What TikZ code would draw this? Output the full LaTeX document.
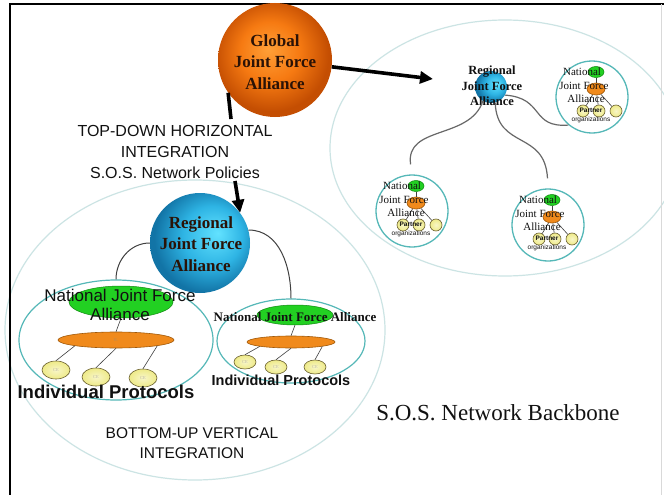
\documentclass[tikz,border=0pt]{standalone}
\usepackage{fontspec}
\setmainfont{Liberation Serif}
\setsansfont{Liberation Sans}
\usetikzlibrary{shapes.geometric,arrows.meta}
\definecolor{gA}{HTML}{FFA038}
\definecolor{gB}{HTML}{F67A12}
\definecolor{gC}{HTML}{C44E02}
\definecolor{bA}{HTML}{62E2FF}
\definecolor{bB}{HTML}{2EB4E4}
\definecolor{bC}{HTML}{1274A6}
\definecolor{tealline}{HTML}{55B8B8}
\definecolor{bgline}{HTML}{CCE4E4}
\definecolor{grn}{HTML}{22D022}
\definecolor{grnD}{HTML}{108A10}
\definecolor{org}{HTML}{F08A1C}
\definecolor{orgD}{HTML}{A05808}
\definecolor{yel}{HTML}{EEEA88}
\definecolor{yelL}{HTML}{F8F6C8}
\definecolor{yelD}{HTML}{6A6030}
\definecolor{ink}{HTML}{111111}
\definecolor{brownink}{HTML}{2A1206}
\definecolor{connD}{HTML}{404040}
\definecolor{connG}{HTML}{686868}
\pgfdeclareradialshading{globalsh}{\pgfpoint{-3bp}{5bp}}{color(0bp)=(gA); color(13bp)=(gB); color(25bp)=(gC); color(50bp)=(gC)}
\pgfdeclareradialshading{regsh}{\pgfpoint{9bp}{5bp}}{color(0bp)=(bA); color(15bp)=(bB); color(27bp)=(bC); color(50bp)=(bC)}
\begin{document}
\begin{tikzpicture}[x=1pt,y=-1pt,
  bigarrow/.style={line width=3.6pt,-{Triangle[length=13pt,width=12pt]}},
  bigline/.style={line width=3.6pt},
  container/.style={ellipse,draw=tealline,line width=1.2pt,inner sep=0pt},
  grnell/.style={ellipse,fill=grn,draw=grnD,line width=0.5pt,inner sep=0pt},
  orgell/.style={ellipse,fill=org,draw=orgD,line width=0.6pt,inner sep=0pt},
  ceell/.style={ellipse,shading=radial,inner color=yelL,outer color=yel,draw=yelD,line width=0.6pt,inner sep=0pt,font=\fontsize{4.5}{5}\selectfont,text=yelD!45},
  darkconn/.style={draw=connD,line width=1pt},
  grayconn/.style={draw=connG,line width=1.2pt},
  thinconn/.style={draw=connD,line width=0.6pt},
  ball/.style={circle,inner sep=0pt},
  sertext/.style={align=center,inner sep=0pt,text=brownink},
  sanstext/.style={align=center,inner sep=0pt,text=ink,font=\sffamily},
  minicirc/.style={circle,draw=tealline,line width=1.3pt,fill=white,minimum size=72pt,inner sep=0pt},
  minigreen/.style={grnell,minimum width=16pt,minimum height=11pt},
  miniorg/.style={orgell,minimum width=18pt,minimum height=12pt},
  miniyel/.style={ceell,minimum width=12pt,minimum height=12pt},
  minitext/.style={inner sep=0pt,text=ink,font=\fontsize{11}{13}\selectfont},
  pics/mininat/.style={code={
    \node[minicirc] (-c) at (0,0) {};
    \node[minigreen] (-g) at (4,-25) {};
    \node[miniorg] (-o) at (4,-8) {};
    \node[miniyel] (-y1) at (-9,14) {};
    \node[miniyel] (-y2) at (7,14) {};
    \node[miniyel] (-y3) at (24,14) {};
    \draw[thinconn] (-g) -- (-o);
    \draw[thinconn] (-o) -- (-y1);
    \draw[thinconn] (-o) -- (-y2);
    \draw[thinconn] (-o) -- (-y3);
    \node[minitext] (-t1) at (-10,-25) {National};
    \node[minitext] (-t2) at (-8,-11) {Joint Force};
    \node[minitext] (-t3) at (-6,2) {Alliance};
    \node[inner sep=0pt,text=ink,font=\sffamily\bfseries\fontsize{6.5}{7}\selectfont] (-p) at (-1,13) {Partner};
    \node[inner sep=0pt,text=ink,font=\sffamily\fontsize{6.5}{7}\selectfont] (-q) at (-1,23) {organizations};
  }}
]
\useasboundingbox (0,0) rectangle (664,495);
\fill[white] (0,0) rectangle (664,495);
% background ellipses
\draw[bgline,line width=1.2pt] (505,148) ellipse [x radius=175,y radius=128];
\draw[bgline,line width=1.2pt] (195,330) ellipse [x radius=190,y radius=150];
% frame
\draw[line width=1.5pt,black] (10,495) -- (10,4) -- (664,4);
\draw[black!15,line width=0.8pt] (661,4) -- (661,495);

% left national
\node[container,minimum width=194pt,minimum height=120pt] (nl) at (116,340) {};
\node[grnell,minimum width=104pt,minimum height=32pt] (nlg) at (121,302) {};
\node[orgell,minimum width=116pt,minimum height=16pt,font=\fontsize{4.5}{5}\selectfont,text=orgD!70] (nlo) at (116,340) {IL};
\node[ceell,minimum width=28pt,minimum height=18pt] (nlc1) at (56,370) {CE};
\node[ceell,minimum width=28pt,minimum height=18pt] (nlc2) at (96,377) {CE};
\node[ceell,minimum width=28pt,minimum height=18pt] (nlc3) at (143,378) {CE};
\draw[thinconn] (nlg.south) -- (nlo.north);
\draw[thinconn] (nlo.south west) -- (nlc1.north);
\draw[thinconn] (nlo.south) -- (nlc2.north);
\draw[thinconn] (nlo.south east) -- (nlc3.north);
\node[sanstext,font=\sffamily\fontsize{17}{19}\selectfont] (nlt) at (120,305) {National Joint Force\\Alliance};
\node[sanstext,font=\sffamily\bfseries\fontsize{18.5}{20}\selectfont] (nlip) at (106,392) {Individual Protocols};

% middle national
\node[container,minimum width=148pt,minimum height=84pt] (nm) at (291,341) {};
\node[grnell,minimum width=76pt,minimum height=20pt] (nmg) at (295,315) {};
\node[orgell,minimum width=88pt,minimum height=12pt] (nmo) at (291,342) {};
\node[ceell,minimum width=22pt,minimum height=14pt] (nmc1) at (245,362) {CE};
\node[ceell,minimum width=22pt,minimum height=14pt] (nmc2) at (276,367) {CE};
\node[ceell,minimum width=22pt,minimum height=14pt] (nmc3) at (315,367) {CE};
\draw[thinconn] (nmg.south) -- (nmo.north);
\draw[thinconn] (nmo.south west) -- (nmc1.north);
\draw[thinconn] (nmo.south) -- (nmc2.north);
\draw[thinconn] (nmo.south east) -- (nmc3.north);
\node[sertext,text=ink,font=\bfseries\fontsize{13}{15}\selectfont] (nmt) at (295,317) {National Joint Force Alliance};
\node[sanstext,font=\sffamily\bfseries\fontsize{14.5}{16}\selectfont] (nmip) at (281,380) {Individual Protocols};

% lower regional
\node[ball,minimum size=100pt,shading=regsh] (rl) at (200,243) {};
\node[sertext,font=\bfseries\fontsize{17}{21.5}\selectfont] (rlt) at (201,244) {Regional\\Joint Force\\Alliance};

% global
\node[ball,minimum size=114pt,shading=globalsh] (global) at (275,60) {};
\node[sertext,font=\bfseries\fontsize{17}{21.5}\selectfont] (globalt) at (275,62) {Global\\Joint Force\\Alliance};

% top-right regional
\node[ball,minimum size=32pt,shading=regsh] (rr) at (491,87) {};
\node[sertext,text=ink,font=\bfseries\fontsize{12.5}{15.5}\selectfont] (rrt) at (492,86) {Regional\\Joint Force\\Alliance};

% mini nationals
\pic (ne) at (592,97) {mininat};
\pic (sw) at (412,211) {mininat};
\pic (se) at (548,225) {mininat};

% connectors top right
\draw[grayconn,shorten >=10pt] (rr.240) .. controls (470,140) and (405,125) .. (sw-c.north);
\draw[grayconn,shorten >=10pt] (rr.285) .. controls (497,150) and (545,130) .. (se-c.north);
\draw[grayconn] (rr.330) .. controls (545,98) and (530,128) .. (ne-c.230);

% connectors lower
\draw[darkconn] (rl.west) to[out=180,in=90] (nl.north);
\draw[darkconn] (rl.15) to[out=0,in=90] (nm.north);

% text top-down
\node[sanstext,font=\sffamily\fontsize{16}{21}\selectfont] (td) at (175,152) {TOP-DOWN HORIZONTAL\\INTEGRATION\\S.O.S. Network Policies};
\coordinate (tdtop) at (231,119);
\coordinate (tdbot) at (235,181);
\coordinate (rrtip) at (433,79);
\draw[bigline] (global.215) -- (tdtop);
\draw[bigarrow] (tdbot) -- (rl.37);
\draw[bigarrow] (global) -- (rrtip);

% bottom texts
\node[sanstext,font=\sffamily\fontsize{15.5}{20}\selectfont] (bu) at (192,443) {BOTTOM-UP VERTICAL\\INTEGRATION};
\node[inner sep=0pt,text=ink,font=\fontsize{23}{26}\selectfont] (backbone) at (498,413) {S.O.S. Network Backbone};
\end{tikzpicture}
\end{document}
